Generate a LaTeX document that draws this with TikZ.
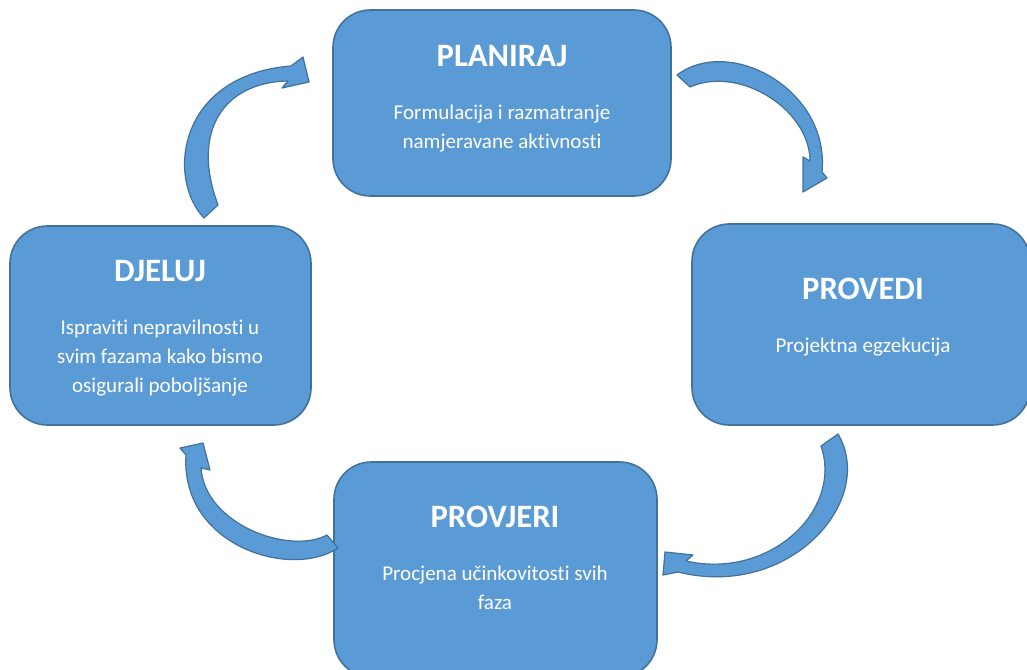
\documentclass[tikz,border=0pt]{standalone}
\usepackage{fontspec}
\setmainfont[Ligatures=NoCommon]{Carlito}
\definecolor{boxblue}{HTML}{5B9BD5}
\definecolor{edgeblue}{HTML}{41719C}
\newcommand{\phasetitle}[1]{{\fontsize{24.5}{28}\selectfont\bfseries #1}}

\begin{document}
\begin{tikzpicture}[x=0.75pt, y=-0.75pt,
    phase/.style={draw=edgeblue, fill=boxblue, line width=1.2pt,
                  rounded corners=28pt, inner sep=0pt},
    phasetext/.style={text=white, align=center,
                      font=\fontsize{15.8}{21.75}\selectfont},
    cyclearrow/.style={draw=edgeblue, fill=boxblue, line width=0.9pt,
                       line join=round}]

    % picture frame (boxes run off the right and bottom edges)
    \clip (0,0) rectangle (1027,670);

    % ================= PHASE BOXES =================
    \node[phase, minimum width=253.5pt, minimum height=139.5pt]  (plan)    at (502,103)   {};
    \node[phase, minimum width=253.5pt, minimum height=150.75pt] (provedi) at (861,324.5) {};
    \node[phase, minimum width=242.25pt, minimum height=161.25pt] (provjeri) at (495.5,569.5) {};
    \node[phase, minimum width=225.75pt, minimum height=149.25pt] (djeluj)  at (160.5,325.5) {};

    % Texts inside the boxes
    \node[phasetext] (plan-txt) at (502,98.5)
        {\phasetitle{PLANIRAJ}\\[18pt] Formulacija i razmatranje\\ namjeravane aktivnosti};
    \node[phasetext] (provedi-txt) at (863,317.5)
        {\phasetitle{PROVEDI}\\[18pt] Projektna egzekucija};
    \node[phasetext] (provjeri-txt) at (495,558)
        {\phasetitle{PROVJERI}\\[18pt] Procjena učinkovitosti svih\\ faza};
    \node[phasetext] (djeluj-txt) at (160,328)
        {\phasetitle{DJELUJ}\\[18pt] Ispraviti nepravilnosti u\\ svim fazama kako bismo\\ osigurali poboljšanje};

    % ================= CURVED ARROWS =================
    % 1. DJELUJ -> PLANIRAJ (top left)
    \draw[cyclearrow] (204,218) .. controls (166,178) and (178,75) .. (291,66)
        -- (303,57) -- (309,82) -- (282,88) -- (288,81)
        .. controls (225,82) and (190,130) .. (218,205) -- cycle;

    % 2. PLANIRAJ -> PROVEDI (top right)
    \draw[cyclearrow] (677,75) .. controls (730,35) and (830,90) .. (822,172)
        -- (827,178) -- (803,192) -- (803,157) -- (810,161)
        .. controls (810,110) and (740,65) .. (690,87) -- cycle;

    % 3. PROVEDI -> PROVJERI (bottom right)
    \draw[cyclearrow] (838,434) .. controls (877,500) and (790,600) .. (678,572)
        -- (663,575) -- (665,552) -- (693,555) -- (686,561)
        .. controls (770,580) and (843,510) .. (821,446) -- cycle;

    % 4. PROVJERI -> DJELUJ (bottom left)
    \draw[cyclearrow] (338,548) .. controls (290,580) and (180,545) .. (186,455)
        -- (180,448) -- (203,443) -- (210,470) -- (201,468)
        .. controls (205,525) and (290,555) .. (327,535) -- cycle;

\end{tikzpicture}
\end{document}
